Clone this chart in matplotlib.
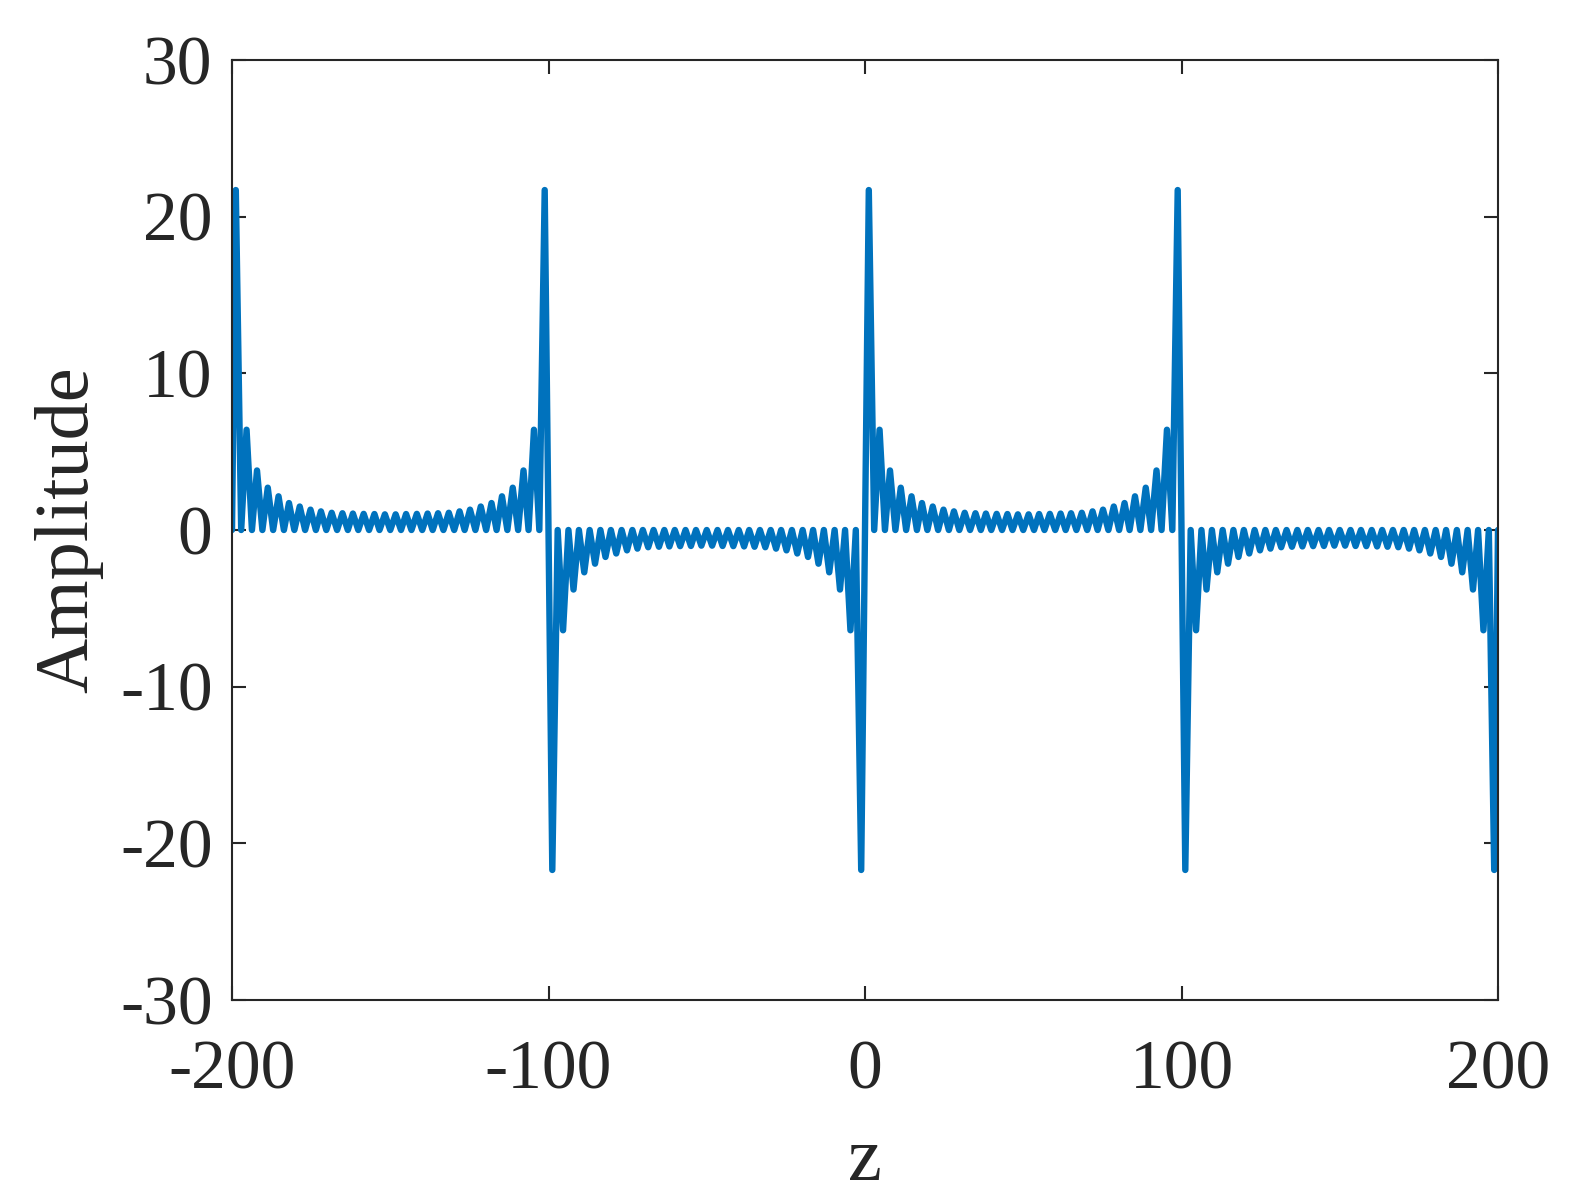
import numpy as np
import matplotlib
matplotlib.use("Agg")
import matplotlib.pyplot as plt

# ---- data read from the picture (one half-period, z measured from its start) ----
# positions of the ripple peaks inside one 100-unit segment
ripple_peak_z = [1.2, 4.6, 7.9, 11.3, 14.7, 18.0, 21.4, 24.8, 28.1, 31.5,
                 34.9, 38.2, 41.6, 45.0, 48.3, 51.7, 55.0, 58.4, 61.8, 65.1,
                 68.5, 71.9, 75.2, 78.6, 82.0, 85.3, 88.7, 92.1, 95.4, 98.8]
# peak heights (absolute value)
ripple_peak_amp = [21.7, 6.4, 3.8, 2.7, 2.15, 1.72, 1.5, 1.3, 1.19, 1.1,
                   1.07, 1.05, 1.03, 1.02, 1.0, 1.0, 1.02, 1.03, 1.05, 1.07,
                   1.1, 1.19, 1.3, 1.5, 1.72, 2.15, 2.7, 3.8, 6.4, 21.7]
# positions where the ripple touches zero
ripple_zero_z = [0.0, 2.9, 6.3, 9.6, 13.0, 16.4, 19.7, 23.1, 26.5, 29.8,
                 33.2, 36.6, 39.9, 43.3, 46.6, 50.0, 53.4, 56.7, 60.1, 63.4,
                 66.8, 70.2, 73.5, 76.9, 80.3, 83.6, 87.0, 90.4, 93.7, 97.1, 100.0]
# segments of the plotted range and their sign
segment_start = [-200, -100, 0, 100]
segment_sign = [1, -1, 1, -1]

x_ticks = [-200, -100, 0, 100, 200]
y_ticks = [-30, -20, -10, 0, 10, 20, 30]

# ---- build the plotted series from the read values ----
zs, amps = [], []
for s0, sg in zip(segment_start, segment_sign):
    for i in range(len(ripple_peak_z)):
        zs.append(s0 + ripple_zero_z[i]); amps.append(0.0)
        zs.append(s0 + ripple_peak_z[i]); amps.append(sg * ripple_peak_amp[i])
zs.append(segment_start[-1] + ripple_zero_z[-1]); amps.append(0.0)

plt.rcParams['font.family'] = ['Liberation Serif', 'DejaVu Serif']
dark = '#262626'

fig = plt.figure(figsize=(15.70, 12.02), dpi=100)
ax = fig.add_axes([232/1570, 1 - 1000/1202, (1498-232)/1570, (1000-60)/1202])

ax.plot(zs, amps, color='#0072BD', lw=4.6, solid_joinstyle='round', solid_capstyle='round')

ax.set_xlim(-200, 200)
ax.set_ylim(-30, 30)
ax.set_xticks(x_ticks)
ax.set_yticks(y_ticks)
ax.set_xticklabels([str(v) for v in x_ticks])
ax.set_yticklabels([str(v) for v in y_ticks])
ax.tick_params(direction='in', length=10, width=1.5, colors=dark, labelsize=50,
               top=True, right=True)
ax.tick_params(axis='y', pad=14)
ax.tick_params(axis='x', pad=29)
for sp in ax.spines.values():
    sp.set_linewidth(1.5)
    sp.set_color(dark)
ax.set_xlabel('z', fontsize=55, color=dark, labelpad=17)
ax.set_ylabel('Amplitude', fontsize=55, color=dark, labelpad=12)

fig.savefig('out.png', dpi=100)
